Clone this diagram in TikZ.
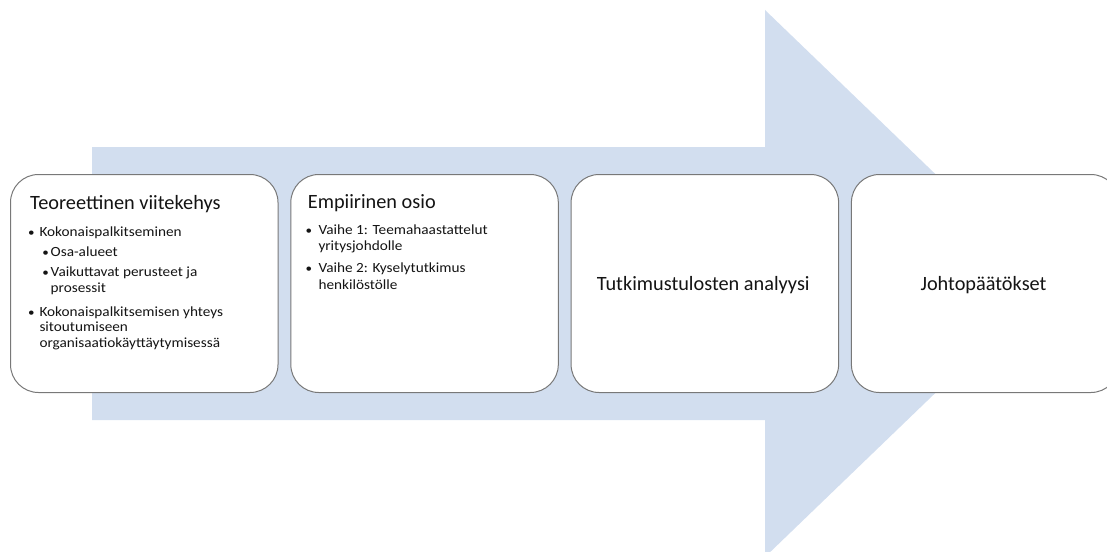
\documentclass[tikz,border=0pt]{standalone}
\usepackage{fontspec}
\setmainfont{Carlito}
\definecolor{arrowfill}{RGB}{210,222,239}
\definecolor{boxline}{RGB}{120,120,120}
\definecolor{txt}{RGB}{20,20,20}
\newcommand{\ttlfont}{\fontsize{20.3}{24}\selectfont}
\newcommand{\bllfont}{\fontsize{14}{16}\selectfont\addfontfeature{FakeStretch=1.09}}
\newcommand{\bu}[1]{\llap{\makebox[#1][c]{\fontsize{12}{12}\selectfont\textbullet}}}
\begin{document}
\begin{tikzpicture}[x=1pt,y=-1pt,
  stepbox/.style={draw=boxline, line width=1pt, fill=white, rounded corners=28pt,
    minimum width=267.5pt, minimum height=218pt, anchor=north west, inner sep=0pt},
  bline/.style={anchor=base west, inner sep=0pt, text=txt, font=\bllfont},
  ttl/.style={anchor=base west, inner sep=0pt, text=txt, font=\ttlfont},
  ctr/.style={anchor=base, inner sep=0pt, text=txt, font=\ttlfont}]
\useasboundingbox (0,0) rectangle (1107,551);
\clip (0,0) rectangle (1107,551);
% big arrow
\fill[arrowfill] (92,147) -- (765,147) -- (765,10) -- (1049,283.5) -- (765,557)
  -- (765,420) -- (92,420) -- cycle;
% boxes
\node[stepbox] (b1) at (10,174) {};
\node[stepbox] (b2) at (290.3,174) {};
\node[stepbox] (b3) at (570.6,174) {};
\node[stepbox] (b4) at (850.9,174) {};
% box 1
\node[ttl] (t1) at (30,209) {Teoreettinen viitekehys};
\node[bline] (t1a) at (39.3,236) {\bu{16pt}Kokonaispalkitseminen};
\node[bline] (t1b) at (50.5,256.7) {\bu{10pt}Osa-alueet};
\node[bline] (t1c) at (50.5,276.7) {\bu{10pt}Vaikuttavat perusteet ja};
\node[bline] (t1d) at (50.5,292.3) {prosessit};
\node[bline] (t1e) at (39.3,316) {\bu{16pt}Kokonaispalkitsemisen yhteys};
\node[bline] (t1f) at (39.3,331.7) {sitoutumiseen};
\node[bline] (t1g) at (39.3,347.7) {organisaatiokäyttäytymisessä};
% box 2
\node[ttl] (t2) at (307.7,208.3) {Empiirinen osio};
\node[bline] (t2a) at (318.3,234) {\bu{19pt}Vaihe 1: Teemahaastattelut};
\node[bline] (t2b) at (318.3,250) {yritysjohdolle};
\node[bline] (t2c) at (318.3,272.7) {\bu{19pt}Vaihe 2: Kyselytutkimus};
\node[bline] (t2d) at (318.3,289.3) {henkilöstölle};
% box 3, 4
\node[ctr] (t3) at (703.3,290) {Tutkimustulosten analyysi};
\node[ctr] (t4) at (983.5,290) {Johtopäätökset};
\end{tikzpicture}
\end{document}
